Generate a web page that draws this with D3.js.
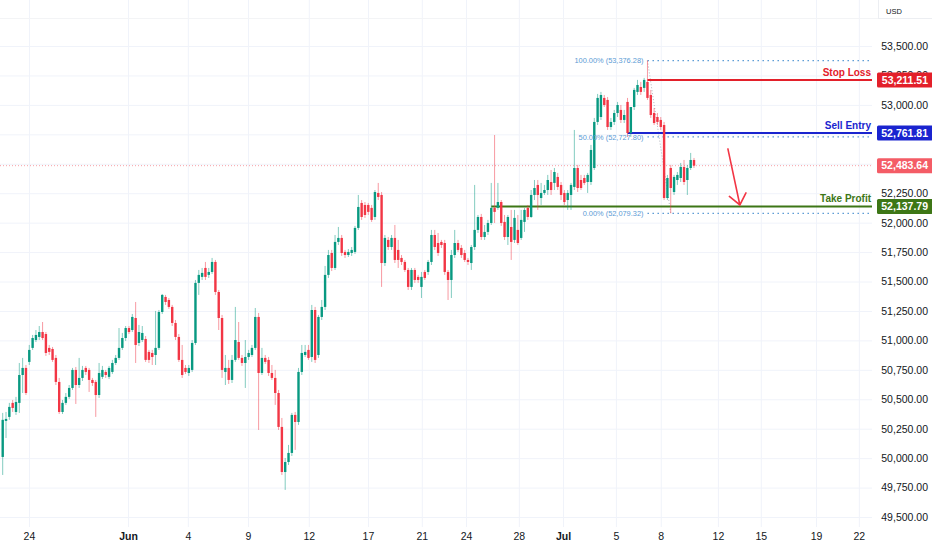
<!DOCTYPE html>
<html>
<head>
<meta charset="utf-8">
<script src="https://cdn.jsdelivr.net/npm/d3@7"></script>
<style>
html, body { margin: 0; padding: 0; background: #fff; }
svg { display: block; font-family: "Liberation Sans", Arial, sans-serif; }
</style>
</head>
<body>
<svg id="chart" width="932" height="550"></svg>
<script>
// candles, [open, high, low, close]
var ohlc = [
  [50010,50384,49857,50325],[50316,50392,50171,50333],[50350,50469,50325,50435],[50469,50494,50392,50426],
  [50392,50520,50367,50477],[50469,50808,50384,50706],[50706,50851,50553,50766],[50766,50791,50536,50553],
  [50817,50961,50791,50919],[50936,51046,50919,51020],[51003,51088,50986,51046],[51029,51122,51003,51071],
  [51071,51156,51003,51020],[51054,51071,50868,50893],[50936,50961,50876,50902],[50927,50944,50817,50834],
  [50851,50876,50621,50647],[50647,50681,50375,50392],[50392,50494,50375,50469],[50469,50553,50452,50520],
  [50520,50621,50503,50596],[50596,50766,50579,50749],[50749,50774,50460,50621],[50621,50851,50596,50681],
  [50681,50783,50655,50749],[50766,50783,50706,50732],[50749,50766,50562,50664],[50664,50681,50613,50638],
  [50647,50664,50350,50536],[50536,50808,50511,50723],[50690,50783,50672,50749],[50732,50749,50681,50706],
  [50690,50783,50672,50766],[50732,50834,50715,50808],[50808,50876,50791,50851],[50851,51105,50834,50936],
  [50936,51063,50919,51020],[51020,51122,50995,51105],[51105,51122,51054,51071],[51088,51224,51071,51199],
  [51190,51326,50808,50961],[50978,51131,50952,51071],[51003,51122,50986,51063],[51012,51037,50817,50834],
  [50902,50919,50808,50834],[50893,50919,50791,50859],[50876,51250,50791,50936],[50936,51258,50919,51241],
  [51241,51394,51224,51386],[51369,51386,51301,51326],[51343,51360,51267,51284],[51284,51301,51122,51148],
  [51148,51173,51003,51029],[51029,51054,50817,50834],[50834,50961,50681,50706],[50766,50791,50715,50732],
  [50723,50791,50698,50766],[50749,51003,50732,50978],[50978,51513,50961,51488],[51488,51598,51386,51556],
  [51539,51615,51513,51573],[51615,51666,51513,51539],[51556,51615,51530,51581],[51581,51700,51564,51666],
  [51666,51683,51386,51411],[51411,51428,51088,51190],[51190,51216,50681,50749],[50732,50876,50621,50766],
  [50766,50834,50630,50664],[50664,50876,50638,50834],[50834,51284,50817,51003],[50986,51156,50834,50851],
  [50851,50876,50783,50808],[50808,51003,50596,50859],[50859,50919,50834,50893],[50876,50961,50859,50936],
  [50936,51275,50919,51199],[51199,51233,50239,50723],[50723,50936,50706,50851],[50851,50876,50800,50817],
  [50834,50859,50698,50723],[50723,50791,50664,50681],[50681,50749,50452,50553],[50553,50579,50239,50265],
  [50265,50341,49857,49882],[49882,50001,49730,49967],[49967,50112,49942,50044],[50044,50384,50018,50367],
  [50367,50392,50070,50307],[50307,50766,50282,50732],[50732,50961,50706,50893],[50876,50961,50859,50902],
  [50919,50961,50834,50851],[50859,51301,50817,51258],[51258,51284,50808,50834],[50876,51216,50851,51199],
  [51199,51343,51173,51284],[51284,51632,51258,51556],[51556,51768,51530,51725],[51742,51768,51589,51615],
  [51615,51895,51598,51836],[51836,51963,51810,51870],[51870,51895,51717,51742],[51751,51768,51700,51725],
  [51725,51776,51708,51751],[51742,51793,51717,51768],[51751,51972,51734,51955],[51955,52235,51938,52133],
  [52167,52192,52023,52048],[52150,52175,52040,52065],[52150,52167,52065,52091],[52125,52150,52006,52023],
  [52048,52277,52023,52260],[52252,52337,52192,52218],[52235,52260,51454,51657],[51657,51895,51632,51870],
  [51853,51878,51768,51793],[51793,51895,51768,51870],[51870,51980,51657,51683],[51768,51853,51615,51683],
  [51700,51725,51640,51666],[51666,51683,51581,51598],[51598,51615,51428,51454],[51454,51615,51428,51598],
  [51598,51615,51488,51513],[51539,51556,51488,51513],[51454,51581,51360,51539],[51581,51598,51513,51530],
  [51581,51683,51556,51666],[51666,51938,51640,51895],[51895,51938,51768,51793],[51827,51912,51717,51742],
  [51836,51853,51785,51810],[51827,51853,51556,51581],[51581,51598,51343,51513],[51513,51768,51360,51725],
  [51725,51938,51700,51827],[51827,51853,51751,51768],[51785,51810,51700,51725],[51742,51768,51666,51683],
  [51683,51700,51640,51666],[51657,51810,51598,51793],[51793,52320,51768,51938],[51938,52065,51912,52048],
  [52048,52074,51853,51878],[51878,51980,51853,51921],[51921,52023,51895,51997],[51997,52337,51980,52125],
  [52125,52744,51997,52091],[52125,52337,52108,52175],[52175,52192,51972,51997],[52006,52065,51853,51878],
  [51878,52065,51810,52048],[51963,52108,51683,51836],[51853,52108,51827,52040],[51938,52065,51810,51827],
  [51870,52108,51853,52023],[52006,52125,51921,52108],[52125,52150,52023,52048],[52048,52277,52040,52235],
  [52235,52362,52192,52294],[52320,52362,52108,52235],[52209,52337,52150,52252],[52252,52320,52235,52277],
  [52277,52405,52235,52362],[52345,52447,52235,52277],[52337,52464,52277,52430],[52388,52422,52277,52303],
  [52320,52345,52192,52235],[52252,52277,52150,52175],[52192,52277,52108,52252],[52235,52337,52108,52320],
  [52303,52787,52277,52464],[52464,52490,52260,52294],[52362,52405,52277,52294],[52379,52405,52320,52337],
  [52345,52422,52252,52405],[52345,52660,52320,52617],[52464,52889,52447,52855],[52855,53093,52829,53059],
  [52897,53110,52872,53084],[53059,53084,52982,52999],[53042,53067,52787,52812],[52812,52889,52787,52855],
  [52855,52957,52829,52931],[52931,53025,52897,52999],[52957,52999,52846,52872],[52872,52957,52846,52914],
  [53025,53059,52727,52761],[52761,52829,52727,52982],[52982,53144,52957,53127],[53110,53212,53084,53169],
  [53152,53195,53084,53110],[53144,53229,53110,53212],[53195,53376.28,53042,53059],[53084,53127,52889,52914],
  [52931,52974,52829,52846],[52897,52931,52829,52855],[52872,52897,52787,52812],[52829,52855,52192,52209],
  [52209,52405,52192,52379],[52464,52490,52079.32,52294],[52260,52405,52235,52388],[52362,52430,52320,52405],
  [52379,52507,52345,52473],[52473,52532,52320,52345],[52362,52490,52235,52464],[52464,52592,52447,52532],
  [52532,52549,52464,52483.64]
];

var priceTicks = d3.range(49500, 53501, 250);

var dateLabels = ['24', 'Jun', '4', '9', '12', '17', '21', '24', '28', 'Jul', '5', '8', '12', '15', '19', '22'];
// candle index each date label sits on (future ones lie past the last candle)
var dateIndex = [7.9, 37.7, 55.7, 73.8, 92.1, 109.9, 126.1, 139.4, 155.3, 168.6, 184.5, 198.0, 215.2, 228.1, 244.7, 257.6];
var monthLabels = ['Jun', 'Jul'];

var levelNames = ['Stop Loss', 'Sell Entry', 'Take Profit'];
var levelPrices = [53211.51, 52761.81, 52137.79];
var levelStart = [194, 188, 147];

var lastPrice = 52483.64;

var fibRatios = [1, 0.5, 0];
var fibFrom = { i: 194, p: 53376.28 };
var fibTo = { i: 201, p: 52079.32 };

var arrowFrom = { i: 218.2, p: 52626 };
var arrowTo = { i: 221.8, p: 52150 };

// ---- drawing ----
var plotRight = 872, plotBottom = 527;
var up = '#089981', down = '#f23645';
var levelColors = { 'Stop Loss': '#e3202a', 'Sell Entry': '#1a24cf', 'Take Profit': '#3d7616' };
var fibColor = '#5b9bd5';

var svg = d3.select('#chart');

var x = d3.scaleLinear().domain([0, ohlc.length - 1]).range([2.7, 694]);
var y = d3.scaleLinear().domain([49500, 53500]).range([517, 46]);
var fmt = d3.format(',.2f');

// grid
svg.append('g')
  .call(d3.axisBottom(x).tickValues(dateIndex).tickSize(plotBottom).tickFormat(''))
  .call(function(g) {
    g.select('.domain').remove();
    g.selectAll('line').attr('stroke', '#f0f3fa');
  });
svg.append('g')
  .call(d3.axisRight(y).tickValues(priceTicks).tickSize(plotRight).tickFormat(''))
  .call(function(g) {
    g.select('.domain').remove();
    g.selectAll('line').attr('stroke', '#f0f3fa');
  });

// current price dotted line
svg.append('line')
  .attr('x1', 0).attr('x2', plotRight)
  .attr('y1', y(lastPrice)).attr('y2', y(lastPrice))
  .attr('stroke', '#f7a0a6').attr('stroke-dasharray', '1,2');

// fib levels
var fibLevels = fibRatios.map(function(r) {
  return { r: r, p: fibTo.p + (fibFrom.p - fibTo.p) * r };
});
svg.append('g').selectAll('line').data(fibLevels).join('line')
  .attr('x1', x(fibFrom.i)).attr('x2', plotRight)
  .attr('y1', function(d) { return y(d.p); })
  .attr('y2', function(d) { return y(d.p); })
  .attr('stroke', fibColor).attr('stroke-width', 1.2)
  .attr('stroke-dasharray', '1.5,3.5');
svg.append('line')
  .attr('x1', x(fibFrom.i)).attr('y1', y(fibFrom.p))
  .attr('x2', x(fibTo.i)).attr('y2', y(fibTo.p))
  .attr('stroke', '#b2b5be').attr('stroke-dasharray', '1,2');

// trade levels
svg.append('g').selectAll('line').data(levelNames).join('line')
  .attr('x1', function(d, i) { return x(levelStart[i]); })
  .attr('x2', plotRight)
  .attr('y1', function(d, i) { return y(levelPrices[i]); })
  .attr('y2', function(d, i) { return y(levelPrices[i]); })
  .attr('stroke', function(d) { return levelColors[d]; })
  .attr('stroke-width', 2);

// candles
var candles = svg.append('g').selectAll('g').data(ohlc).join('g');
candles.append('line')
  .attr('x1', function(d, i) { return x(i); })
  .attr('x2', function(d, i) { return x(i); })
  .attr('y1', function(d) { return y(d[1]); })
  .attr('y2', function(d) { return y(d[2]); })
  .attr('stroke', function(d) { return d[3] >= d[0] ? up : down; })
  .attr('stroke-opacity', 0.5)
  .attr('stroke-width', 1);
candles.append('rect')
  .attr('x', function(d, i) { return x(i) - 1.2; })
  .attr('width', 2.4)
  .attr('y', function(d) { return y(Math.max(d[0], d[3])); })
  .attr('height', function(d) { return Math.max(1, Math.abs(y(d[0]) - y(d[3]))); })
  .attr('fill', function(d) { return d[3] >= d[0] ? up : down; });

// fib labels
svg.append('g').selectAll('text').data(fibLevels).join('text')
  .attr('x', x(fibFrom.i) - 4)
  .attr('y', function(d) { return y(d.p); })
  .attr('dy', '0.35em')
  .attr('text-anchor', 'end')
  .attr('font-size', 7.4)
  .attr('fill', fibColor)
  .text(function(d) { return d3.format('.2f')(d.r * 100) + '% (' + fmt(d.p) + ')'; });

// level names
svg.append('g').selectAll('text').data(levelNames).join('text')
  .attr('x', plotRight - 1)
  .attr('y', function(d, i) { return y(levelPrices[i]) - 4; })
  .attr('text-anchor', 'end')
  .attr('font-size', 10)
  .attr('font-weight', 'bold')
  .attr('fill', function(d) { return levelColors[d]; })
  .text(function(d) { return d; });

// arrow
var ax1 = x(arrowFrom.i), ay1 = y(arrowFrom.p), ax2 = x(arrowTo.i), ay2 = y(arrowTo.p);
var back = Math.atan2(ay1 - ay2, ax1 - ax2);
var head = [back - 0.68, back + 0.68].map(function(a) {
  return [ax2 + 13.5 * Math.cos(a), ay2 + 13.5 * Math.sin(a)];
});
svg.append('path')
  .attr('d', 'M' + ax1 + ',' + ay1 + 'L' + ax2 + ',' + ay2 +
    'M' + head[0][0] + ',' + head[0][1] + 'L' + ax2 + ',' + ay2 + 'L' + head[1][0] + ',' + head[1][1])
  .attr('fill', 'none').attr('stroke', '#f23645').attr('stroke-width', 1.6)
  .attr('stroke-linecap', 'round');

// price boxes (the axis hides tick labels sitting fully under a box)
var boxes = levelNames.map(function(n, i) { return { p: levelPrices[i], c: levelColors[n] }; });
boxes.push({ p: lastPrice, c: '#f45c66' });
var shownTicks = priceTicks.filter(function(t) {
  return !boxes.some(function(b) { return Math.abs(y(t) - y(b.p)) < 4; });
});

// price axis
svg.append('g')
  .attr('transform', 'translate(928,0)')
  .call(d3.axisRight(y).tickValues(shownTicks).tickSize(0).tickPadding(0).tickFormat(fmt))
  .call(function(g) {
    g.select('.domain').remove();
    g.selectAll('text').attr('text-anchor', 'end').attr('x', 0)
      .attr('font-size', 10.5).attr('fill', '#131722')
      .attr('font-family', '"Liberation Sans", Arial, sans-serif');
  });

var bg = svg.append('g').selectAll('g').data(boxes).join('g')
  .attr('transform', function(d) { return 'translate(877,' + y(d.p) + ')'; });
bg.append('rect')
  .attr('x', 0).attr('y', -7.5).attr('width', 56).attr('height', 15)
  .attr('rx', 1.5).attr('fill', function(d) { return d.c; });
bg.append('text')
  .attr('x', 51).attr('dy', '0.36em').attr('text-anchor', 'end')
  .attr('font-size', 10.5).attr('font-weight', 'bold').attr('fill', '#fff')
  .text(function(d) { return fmt(d.p); });

// time axis
svg.append('g')
  .attr('transform', 'translate(0,533)')
  .call(d3.axisBottom(x).tickValues(dateIndex).tickSize(0).tickPadding(0)
    .tickFormat(function(d, i) { return dateLabels[i]; }))
  .call(function(g) {
    g.select('.domain').remove();
    g.selectAll('text')
      .attr('font-size', 10.5).attr('fill', '#131722')
      .attr('font-family', '"Liberation Sans", Arial, sans-serif')
      .attr('font-weight', function(d, i) { return monthLabels.indexOf(dateLabels[i]) >= 0 ? 'bold' : 'normal'; });
  });

// currency tag
svg.append('line').attr('x1', 0).attr('x2', 878).attr('y1', 18.5).attr('y2', 18.5)
  .attr('stroke', '#f3f4f6');
svg.append('rect').attr('x', 878.5).attr('y', -1).attr('width', 60).attr('height', 19.5)
  .attr('fill', '#fff').attr('stroke', '#eceef2');
svg.append('text').attr('x', 886).attr('y', 14).attr('font-size', 7.5).attr('fill', '#131722')
  .text('USD');
</script>
</body>
</html>
